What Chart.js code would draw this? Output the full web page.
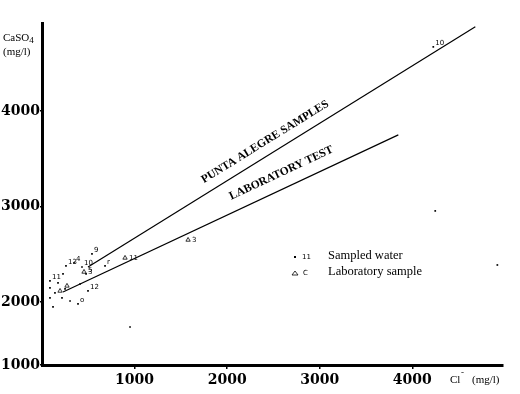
<!DOCTYPE html>
<html>
<head>
<meta charset="utf-8">
<script src="https://cdn.jsdelivr.net/npm/chart.js@4.4.1/dist/chart.umd.min.js"></script>
<style>
  html, body { margin: 0; padding: 0; background: #fff; }
</style>
</head>
<body>
<canvas id="chart" width="520" height="394"></canvas>
<script>
// axis ticks (bottom of the y axis is labelled 1000 in the original figure)
const xTicks = [1000, 2000, 3000, 4000];
const yTicks = [2000, 3000, 4000];
const yFloorLabel = "1000";
const xMin = 0, xMax = 4980, yMin = 1340, yMax = 4920;

// sampled water (Cl-, CaSO4 in mg/l) and their well numbers
const waterX = [540, 346, 259, 432, 476, 227, 86, 173, 411, 86, 249, 497, 140, 86, 216, 303, 389, 119, 681, 951, 4227, 4919, 4248];
const waterY = [2503, 2408, 2377, 2366, 2293, 2293, 2220, 2199, 2188, 2147, 2136, 2115, 2094, 2042, 2042, 2010, 1979, 1948, 2377, 1738, 4670, 2387, 2953];
const waterTags = ["9", "4", "13", "10", "5", "", "11", "", "", "", "", "12", "", "", "", "", "o", "", "r", "", "10", "", ""];

// laboratory samples
const labX = [1578, 897, 454, 270, 195];
const labY = [2649, 2461, 2314, 2168, 2115];
const labTags = ["3", "11", "3", "", ""];

// trend lines
const alegreX = [497, 4681];
const alegreY = [2366, 4880];
const labTestX = [227, 3849];
const labTestY = [2105, 3749];

const pts = (xs, ys) => xs.map((x, i) => ({ x: x, y: ys[i] }));

const overlay = {
  id: "overlay",
  afterDatasetsDraw(chart) {
    const ctx = chart.ctx;
    const sx = chart.scales.x, sy = chart.scales.y;
    ctx.save();
    ctx.fillStyle = "#000";

    // tiny point numbers
    ctx.font = "7px 'DejaVu Sans'";
    ctx.textBaseline = "middle";
    ctx.textAlign = "left";
    waterTags.forEach((t, i) => {
      if (t) ctx.fillText(t, sx.getPixelForValue(waterX[i]) + 2, sy.getPixelForValue(waterY[i]) - 4);
    });
    labTags.forEach((t, i) => {
      if (t) ctx.fillText(t, sx.getPixelForValue(labX[i]) + 4, sy.getPixelForValue(labY[i]));
    });

    // labels along the trend lines
    function lineLabel(xs, ys, text, t, off) {
      const x0 = sx.getPixelForValue(xs[0]), y0 = sy.getPixelForValue(ys[0]);
      const x1 = sx.getPixelForValue(xs[1]), y1 = sy.getPixelForValue(ys[1]);
      const ang = Math.atan2(y1 - y0, x1 - x0);
      const cx = x0 + (x1 - x0) * t + Math.sin(ang) * off;
      const cy = y0 + (y1 - y0) * t - Math.cos(ang) * off;
      ctx.save();
      ctx.translate(cx, cy);
      ctx.rotate(ang);
      ctx.font = "bold 11.5px 'Liberation Serif'";
      ctx.textAlign = "center";
      ctx.textBaseline = "middle";
      ctx.fillText(text, 0, 0);
      ctx.restore();
    }
    lineLabel(alegreX, alegreY, "PUNTA ALEGRE SAMPLES", 0.475, 13);
    lineLabel(labTestX, labTestY, "LABORATORY TEST", 0.67, 15);

    // legend
    ctx.textAlign = "left";
    ctx.textBaseline = "middle";
    ctx.fillRect(294, 256, 2, 2);
    ctx.font = "7px 'DejaVu Sans'";
    ctx.fillText("11", 302, 257);
    ctx.fillText("C", 303, 273);
    ctx.beginPath();
    ctx.moveTo(295, 271); ctx.lineTo(298, 275); ctx.lineTo(292, 275); ctx.closePath();
    ctx.lineWidth = 0.8;
    ctx.stroke();
    ctx.font = "12.5px 'Liberation Serif'";
    ctx.fillText("Sampled water", 328, 256);
    ctx.fillText("Laboratory sample", 328, 272);

    // axis titles
    ctx.font = "11px 'Liberation Serif'";
    ctx.fillText("CaSO", 3, 38);
    const w = ctx.measureText("CaSO").width;
    ctx.fillText("(mg/l)", 3, 52);
    ctx.fillText("Cl", 450, 380);
    ctx.fillText("(mg/l)", 472, 380);
    ctx.font = "9px 'Liberation Serif'";
    ctx.fillText("4", 3 + w, 41);
    ctx.fillText("-", 461, 373);
    ctx.restore();
  }
};

new Chart(document.getElementById("chart"), {
  type: "scatter",
  data: {
    datasets: [
      {
        label: "Sampled water",
        data: pts(waterX, waterY),
        pointStyle: "rect",
        pointRadius: 1.2,
        backgroundColor: "#000",
        borderColor: "#000",
        borderWidth: 0
      },
      {
        label: "Laboratory sample",
        data: pts(labX, labY),
        pointStyle: "triangle",
        pointRadius: 2.5,
        backgroundColor: "#fff",
        borderColor: "#000",
        borderWidth: 0.8
      },
      {
        label: "Punta Alegre samples",
        type: "line",
        data: pts(alegreX, alegreY),
        borderColor: "#000",
        borderWidth: 1.2,
        pointRadius: 0,
        fill: false
      },
      {
        label: "Laboratory test",
        type: "line",
        data: pts(labTestX, labTestY),
        borderColor: "#000",
        borderWidth: 1.2,
        pointRadius: 0,
        fill: false
      }
    ]
  },
  options: {
    responsive: false,
    animation: false,
    layout: { padding: { top: 23, right: 17, left: 0, bottom: 0 } },
    plugins: { legend: { display: false }, tooltip: { enabled: false } },
    scales: {
      x: {
        type: "linear",
        min: xMin,
        max: xMax,
        afterBuildTicks: axis => { axis.ticks = xTicks.map(v => ({ value: v })); },
        afterFit: axis => { axis.height = 29; },
        border: { color: "#000", width: 3 },
        grid: { drawOnChartArea: false, drawTicks: true, tickLength: 4, color: "#000", lineWidth: 1.5 },
        ticks: {
          autoSkip: false,
          maxRotation: 0,
          padding: 3,
          color: "#000",
          font: { family: "'DejaVu Serif'", weight: "bold", size: 14 },
          callback: v => String(v)
        }
      },
      y: {
        type: "linear",
        min: yMin,
        max: yMax,
        afterBuildTicks: axis => { axis.ticks = [yMin].concat(yTicks).map(v => ({ value: v })); },
        afterFit: axis => { axis.width = 42; },
        border: { color: "#000", width: 3 },
        grid: { drawOnChartArea: false, drawTicks: true, tickLength: 2, color: "#000", lineWidth: 1.5 },
        ticks: {
          autoSkip: false,
          padding: 0,
          color: "#000",
          font: { family: "'DejaVu Serif'", weight: "bold", size: 14 },
          callback: (v, i) => i === 0 ? yFloorLabel : String(v)
        }
      }
    }
  },
  plugins: [overlay]
});
</script>
</body>
</html>
